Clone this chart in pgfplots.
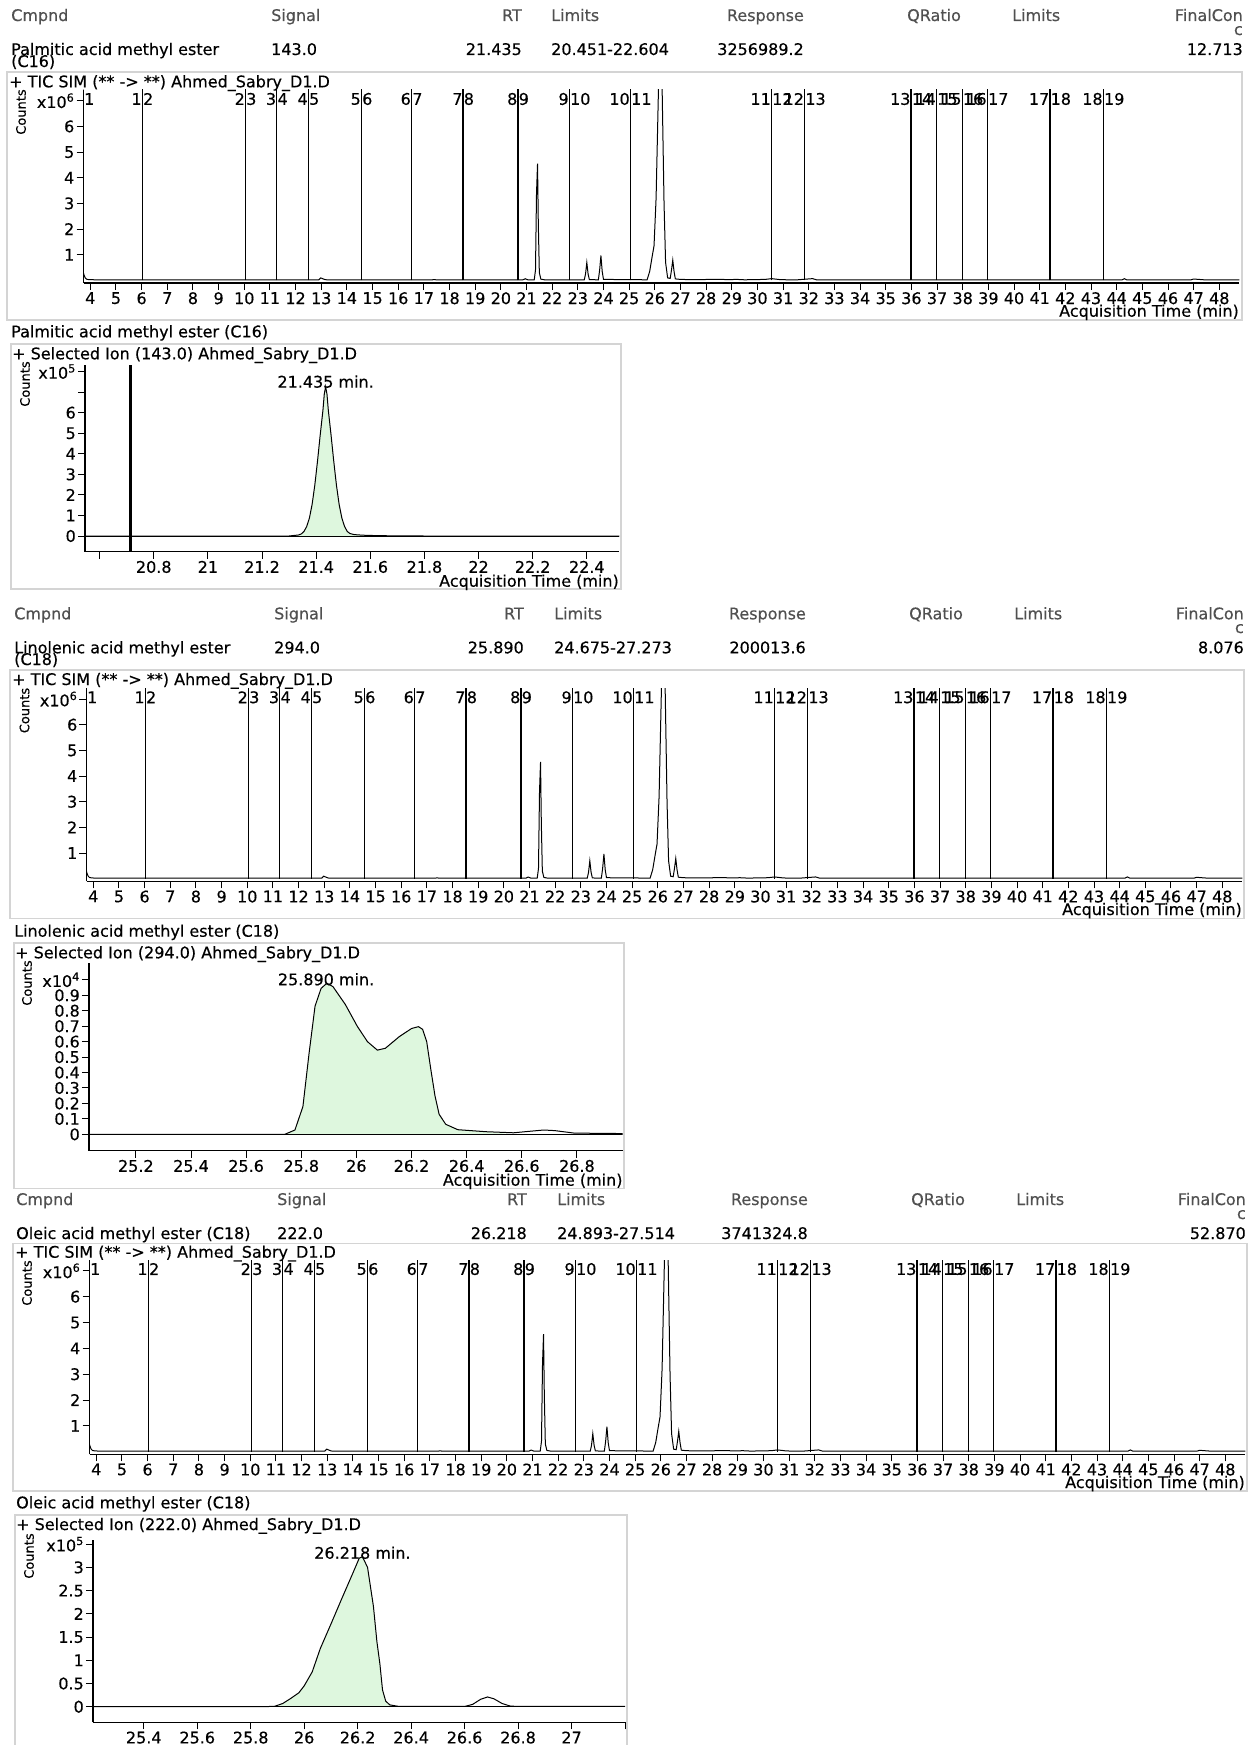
\documentclass[border=0pt]{standalone}
\usepackage{pgfplots}
\pgfplotsset{compat=1.18}
\usepackage{pgfplotstable}
\usepackage{fontspec}
\setmainfont{DejaVu Sans}[FakeBold=0.35]
\newcommand\fs{\fontsize{16}{19}\selectfont}
\newcommand\fc{\fontsize{13}{15}\selectfont}
\definecolor{hdr}{RGB}{80,80,80}
\definecolor{pfill}{RGB}{222,247,222}
\definecolor{pbox}{RGB}{212,212,212}

% TIC trace (x in min, y in 10^6 counts)
\pgfplotstableread{
x y
3.735 0.28
3.76 0.2
3.80 0.1
3.85 0.05
3.95 0.03
4.5 0.02
12.9 0.02
12.98 0.1
13.05 0.07
13.15 0.03
13.3 0.02
17.3 0.02
17.4 0.035
17.5 0.02
20.85 0.02
20.95 0.065
21.05 0.025
21.3 0.02
21.35 0.4
21.39 3.4
21.43 4.55
21.46 2.2
21.5 0.3
21.56 0.05
21.7 0.025
23.25 0.02
23.3 0.25
23.35 0.7
23.4 0.25
23.45 0.03
23.8 0.025
23.85 0.4
23.9 0.97
23.95 0.35
24.0 0.04
25.7 0.025
25.8 0.35
25.9 0.95
25.97 1.35
26.05 3.2
26.15 7.8
26.28 7.8
26.36 3.0
26.42 0.7
26.5 0.1
26.6 0.08
26.65 0.4
26.7 0.79
26.75 0.35
26.8 0.06
27.0 0.04
27.5 0.03
28.6 0.045
28.8 0.03
29.2 0.04
29.5 0.025
30.3 0.04
30.55 0.07
30.9 0.03
31.5 0.02
32.15 0.07
32.3 0.025
44.2 0.02
44.3 0.07
44.4 0.02
46.9 0.025
47.0 0.055
47.2 0.04
47.4 0.025
48.78 0.025
}\tic

% compound window boundaries
\pgfplotstableread{
x y
3.735 7.6
6.03 7.6
10.05 7.6
11.27 7.6
12.50 7.6
14.57 7.6
16.52 7.6
18.53 7.6
20.67 7.6
22.67 7.6
25.05 7.6
30.55 7.6
31.84 7.6
35.99 7.6
36.98 7.6
37.98 7.6
38.96 7.6
41.40 7.6
43.48 7.6
}\mk

\pgfplotstableread{
x y m
6.03 7.07 1
10.05 7.07 2
11.27 7.07 3
12.50 7.07 4
14.57 7.07 5
16.52 7.07 6
18.53 7.07 7
20.67 7.07 8
22.67 7.07 9
25.05 7.07 10
30.55 7.07 11
31.84 7.07 12
35.99 7.07 13
36.98 7.07 14
37.98 7.07 15
38.96 7.07 16
41.40 7.07 17
43.48 7.07 18
}\mL

\pgfplotstableread{
x y m
3.735 7.07 1
6.03 7.07 2
10.05 7.07 3
11.27 7.07 4
12.50 7.07 5
14.57 7.07 6
16.52 7.07 7
18.53 7.07 8
20.67 7.07 9
22.67 7.07 10
25.05 7.07 11
30.55 7.07 12
31.84 7.07 13
35.99 7.07 14
36.98 7.07 15
37.98 7.07 16
38.96 7.07 17
41.40 7.07 18
43.48 7.07 19
}\mR

% Palmitic acid SIM 143.0 (10^5 counts)
\pgfplotstableread{
x y
20.546 0
21.30 0
21.335 0.05
21.345 0.1
21.355 0.22
21.365 0.46
21.375 0.87
21.385 1.53
21.395 2.47
21.405 3.64
21.415 4.92
21.425 6.11
21.430 6.9
21.435 7.27
21.440 6.9
21.445 6.11
21.455 4.92
21.465 3.64
21.475 2.47
21.485 1.53
21.495 0.87
21.505 0.46
21.515 0.22
21.525 0.12
21.54 0.07
21.57 0.04
21.62 0.02
21.7 0.005
21.8 0
22.52 0
}\palm

\pgfplotstableread{
x y
21.30 0
21.335 0.05
21.345 0.1
21.355 0.22
21.365 0.46
21.375 0.87
21.385 1.53
21.395 2.47
21.405 3.64
21.415 4.92
21.425 6.11
21.430 6.9
21.435 7.27
21.440 6.9
21.445 6.11
21.455 4.92
21.465 3.64
21.475 2.47
21.485 1.53
21.495 0.87
21.505 0.46
21.515 0.22
21.525 0.12
21.54 0.07
21.57 0.04
21.62 0
}\palmfill

% Linolenic acid SIM 294.0 (10^4 counts)
\pgfplotstableread{
x y
25.03 0
25.74 0
25.777 0.028
25.806 0.18
25.828 0.52
25.85 0.83
25.872 0.945
25.893 0.978
25.915 0.956
25.96 0.84
26.003 0.70
26.04 0.60
26.076 0.545
26.105 0.557
26.156 0.633
26.2 0.685
26.225 0.697
26.24 0.68
26.255 0.6
26.27 0.42
26.285 0.25
26.3 0.13
26.324 0.065
26.368 0.03
26.47 0.017
26.57 0.01
26.63 0.02
26.68 0.028
26.72 0.024
26.79 0.008
26.966 0.005
}\lino

\pgfplotstableread{
x y
25.74 0
25.777 0.028
25.806 0.18
25.828 0.52
25.85 0.83
25.872 0.945
25.893 0.978
25.915 0.956
25.96 0.84
26.003 0.70
26.04 0.60
26.076 0.545
26.105 0.557
26.156 0.633
26.2 0.685
26.225 0.697
26.24 0.68
26.255 0.6
26.27 0.42
26.285 0.25
26.3 0.13
26.324 0.065
26.368 0.03
26.47 0.017
26.57 0
}\linofill

% Oleic acid SIM 222.0 (10^5 counts)
\pgfplotstableread{
x y
25.21 0
25.85 0
25.89 0.01
25.92 0.07
25.95 0.18
25.98 0.3
26.0 0.45
26.03 0.75
26.06 1.25
26.1 1.78
26.14 2.32
26.18 2.85
26.206 3.2
26.218 3.23
26.237 3.0
26.259 2.16
26.272 1.4
26.283 0.93
26.293 0.36
26.305 0.12
26.32 0.04
26.35 0.01
26.4 0.005
26.6 0.005
26.63 0.05
26.66 0.16
26.686 0.21
26.71 0.17
26.74 0.07
26.77 0.015
26.8 0.005
27.2 0.005
}\olei

\pgfplotstableread{
x y
25.85 0
25.89 0.01
25.92 0.07
25.95 0.18
25.98 0.3
26.0 0.45
26.03 0.75
26.06 1.25
26.1 1.78
26.14 2.32
26.18 2.85
26.206 3.2
26.218 3.23
26.237 3.0
26.259 2.16
26.272 1.4
26.283 0.93
26.293 0.36
26.305 0.12
26.32 0.04
26.35 0
}\oleifill

\pgfplotsset{
  common/.style={scale only axis, anchor=south west,
    axis x line=bottom, axis y line=left,
    axis line style={-,black,line width=1.2pt},
    tick align=outside, major tick length=7pt,
    tick style={black,line width=1pt},
    tick label style={font=\fs},
    /pgf/number format/assume math mode=true,
    xticklabel style={anchor=north,inner sep=0pt,yshift=-2pt},
    yticklabel style={anchor=east,inner sep=0pt,xshift=-2pt}},
  tic/.style={common, xmin=3.735, xmax=48.78, ymin=-0.1, ymax=7.42,
    xtick={4,...,48}, ytick={1,...,7},
    yticklabels={1,2,3,4,5,6,x10\textsuperscript{6}}},
}

\newcommand\ticcontent{%
  \addplot[ycomb, black, line width=1.3pt, mark=none] table[x=x,y=y] {\mk};
  \addplot[black, line width=1pt, mark=none] table[x=x,y=y] {\tic};
  \addplot[draw=none, mark=none, nodes near coords, point meta=explicit symbolic,
    nodes near coords style={anchor=east, font=\fs, inner sep=0.5pt}]
    table[x=x,y=y,meta=m] {\mL};
  \addplot[draw=none, mark=none, nodes near coords, point meta=explicit symbolic,
    nodes near coords style={anchor=west, font=\fs, inner sep=0.5pt}]
    table[x=x,y=y,meta=m] {\mR};
}

\newcommand\hL[3]{\node[anchor=base west,inner sep=0pt,font=\fs,text=hdr] at (#1pt,-#2pt) {#3};}
\newcommand\hR[3]{\node[anchor=base east,inner sep=0pt,font=\fs,text=hdr] at (#1pt,-#2pt) {#3};}
\newcommand\tL[3]{\node[anchor=base west,inner sep=0pt,font=\fs] at (#1pt,-#2pt) {#3};}
\newcommand\tR[3]{\node[anchor=base east,inner sep=0pt,font=\fs] at (#1pt,-#2pt) {#3};}
\newcommand\cnt[2]{\node[rotate=90,font=\fc,inner sep=0pt] at (#1pt,-#2pt) {Counts};}

\begin{document}
\begin{tikzpicture}
\useasboundingbox (0,0) rectangle (1253pt,-1745pt);
\fill[white] (0,0) rectangle (1253pt,-1745pt);

% panel frames
\draw[pbox, line width=1.6pt] (7pt,-72pt) rectangle (1242pt,-320pt);
\draw[pbox, line width=1.6pt] (11pt,-344pt) rectangle (621pt,-589pt);
\draw[pbox, line width=1.6pt] (10pt,-670pt) rectangle (1244pt,-918.5pt);
\draw[pbox, line width=1.6pt] (14pt,-943pt) rectangle (624pt,-1188.5pt);
\draw[pbox, line width=1.6pt] (13pt,-1243.5pt) rectangle (1247pt,-1491pt);
\draw[pbox, line width=1.6pt] (15pt,-1515pt) rectangle (627pt,-1770pt);

% ===== Section 1: Palmitic =====
\hL{11}{21}{Cmpnd} \hL{271}{21}{Signal} \hR{522}{21}{RT} \hL{551}{21}{Limits}
\hR{804}{21}{Response} \hL{907}{21}{QRatio} \hL{1012}{21}{Limits}
\hR{1243}{21}{FinalCon} \hR{1243}{35}{c}
\tL{11}{55}{Palmitic acid methyl ester} \tL{11}{67}{(C16)}
\tL{271}{55}{143.0} \tR{522}{55}{21.435} \tL{551}{55}{20.451-22.604}
\tR{804}{55}{3256989.2} \tR{1243}{55}{12.713}
\tL{9}{87.3}{+ TIC SIM (** -> **) Ahmed\_Sabry\_D1.D}
\cnt{21}{112}
\tR{1239}{316.7}{Acquisition Time (min)}

\begin{axis}[tic, at={(83.5pt,-283pt)}, width=1155.8pt, height=193pt]
\ticcontent
\end{axis}

\tL{11}{337.3}{Palmitic acid methyl ester (C16)}
\tL{12}{359.3}{+ Selected Ion (143.0) Ahmed\_Sabry\_D1.D}
\cnt{25}{384}
\tR{619}{586.7}{Acquisition Time (min)}

\begin{axis}[common, at={(85pt,-551.7pt)}, width=534.3pt, height=186.7pt,
  xmin=20.546, xmax=22.52, ymin=-0.764, ymax=8.32,
  xtick={20.6,20.8,21,21.2,21.4,21.6,21.8,22,22.2,22.4},
  xticklabels={{},20.8,21,21.2,21.4,21.6,21.8,22,22.2,22.4},
  ytick={0,1,2,3,4,5,6,7,8},
  yticklabels={0,1,2,3,4,5,6,{},x10\textsuperscript{5}}]
\addplot[fill=pfill, draw=none] table[x=x,y=y] {\palmfill} -- cycle;
\addplot[black, line width=1pt, mark=none] coordinates {(20.546,0) (22.52,0)};
\addplot[black, line width=1pt, mark=none] table[x=x,y=y] {\palm};
\addplot[black, line width=2.6pt, mark=none] coordinates {(20.715,-1) (20.715,9)};
\node[font=\fs, anchor=base, inner sep=0pt, yshift=-1pt] at (axis cs:21.435,7.27) {21.435 min.};
\end{axis}

% ===== Section 2: Linolenic =====
\hL{14}{619.3}{Cmpnd} \hL{274}{619.3}{Signal} \hR{524}{619.3}{RT} \hL{554}{619.3}{Limits}
\hR{806}{619.3}{Response} \hL{909}{619.3}{QRatio} \hL{1014}{619.3}{Limits}
\hR{1244}{619.3}{FinalCon} \hR{1244}{633}{c}
\tL{14}{653.3}{Linolenic acid methyl ester} \tL{14}{665}{(C18)}
\tL{274}{653.3}{294.0} \tR{524}{653.3}{25.890} \tL{554}{653.3}{24.675-27.273}
\tR{806}{653.3}{200013.6} \tR{1244}{653.3}{8.076}
\tL{12}{685}{+ TIC SIM (** -> **) Ahmed\_Sabry\_D1.D}
\cnt{24.5}{710.5}
\tR{1242}{915}{Acquisition Time (min)}

\begin{axis}[tic, at={(86.5pt,-881.3pt)}, width=1155.8pt, height=193pt]
\ticcontent
\end{axis}

\tL{14}{936.7}{Linolenic acid methyl ester (C18)}
\tL{15}{958.3}{+ Selected Ion (294.0) Ahmed\_Sabry\_D1.D}
\cnt{27}{983}
\tR{622.7}{1185.7}{Acquisition Time (min)}

\begin{axis}[common, at={(89pt,-1150.7pt)}, width=533.7pt, height=187.4pt,
  xmin=25.03, xmax=26.966, ymin=-0.106, ymax=1.107,
  xtick={25.2,25.4,25.6,25.8,26,26.2,26.4,26.6,26.8},
  xticklabels={25.2,25.4,25.6,25.8,26,26.2,26.4,26.6,26.8},
  ytick={0,0.1,0.2,0.3,0.4,0.5,0.6,0.7,0.8,0.9,1},
  yticklabels={0,0.1,0.2,0.3,0.4,0.5,0.6,0.7,0.8,0.9,x10\textsuperscript{4}}]
\addplot[fill=pfill, draw=none] table[x=x,y=y] {\linofill} -- cycle;
\addplot[black, line width=1pt, mark=none] coordinates {(25.03,0) (26.966,0)};
\addplot[black, line width=1pt, mark=none] table[x=x,y=y] {\lino};
\node[font=\fs, anchor=base, inner sep=0pt, yshift=-2pt] at (axis cs:25.89,0.978) {25.890 min.};
\end{axis}

% ===== Section 3: Oleic =====
\hL{16}{1205}{Cmpnd} \hL{277}{1205}{Signal} \hR{527}{1205}{RT} \hL{557}{1205}{Limits}
\hR{808}{1205}{Response} \hL{911}{1205}{QRatio} \hL{1016}{1205}{Limits}
\hR{1246}{1205}{FinalCon} \hR{1246}{1219}{c}
\tL{16}{1239}{Oleic acid methyl ester (C18)}
\tL{277}{1239}{222.0} \tR{527}{1239}{26.218} \tL{557}{1239}{24.893-27.514}
\tR{808}{1239}{3741324.8} \tR{1246}{1239}{52.870}
\tL{15}{1257.7}{+ TIC SIM (** -> **) Ahmed\_Sabry\_D1.D}
\cnt{27}{1283}
\tR{1245}{1488}{Acquisition Time (min)}

\begin{axis}[tic, at={(89.5pt,-1454.3pt)}, width=1155.8pt, height=194.3pt]
\ticcontent
\end{axis}

\tL{16}{1508.3}{Oleic acid methyl ester (C18)}
\tL{16}{1530}{+ Selected Ion (222.0) Ahmed\_Sabry\_D1.D}
\cnt{29}{1556}

\begin{axis}[common, at={(93pt,-1722.3pt)}, width=532pt, height=182.3pt,
  xmin=25.21, xmax=27.2, ymin=-0.336, ymax=3.59,
  xtick={25.4,25.6,25.8,26,26.2,26.4,26.6,26.8,27,27.2},
  xticklabels={25.4,25.6,25.8,26,26.2,26.4,26.6,26.8,27,{}},
  ytick={0,0.5,1,1.5,2,2.5,3,3.5},
  yticklabels={0,0.5,1,1.5,2,2.5,3,x10\textsuperscript{5}}]
\addplot[fill=pfill, draw=none] table[x=x,y=y] {\oleifill} -- cycle;
\addplot[black, line width=1pt, mark=none] coordinates {(25.21,0) (27.2,0)};
\addplot[black, line width=1pt, mark=none] table[x=x,y=y] {\olei};
\node[font=\fs, anchor=base, inner sep=0pt, yshift=-2pt] at (axis cs:26.218,3.23) {26.218 min.};
\end{axis}

\end{tikzpicture}
\end{document}
